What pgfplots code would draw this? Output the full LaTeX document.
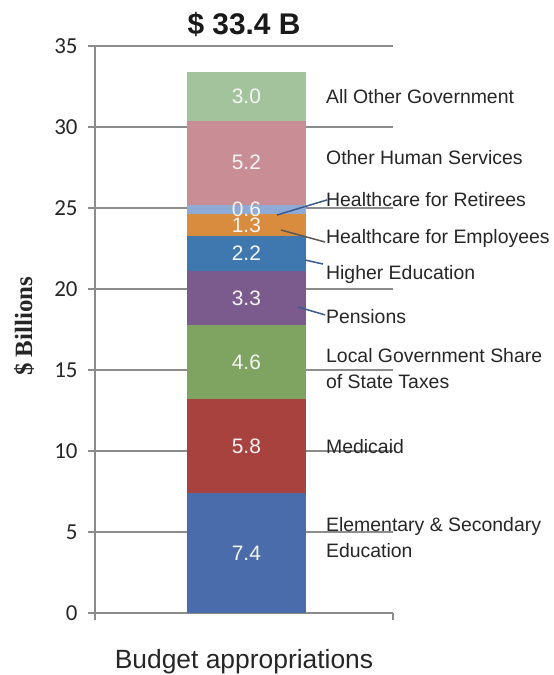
\documentclass[border=0pt]{standalone}
\usepackage{pgfplots}
\pgfplotsset{compat=1.18}
\usepackage{fontspec}
\setmainfont{Liberation Sans}
\newfontfamily\carlito{Carlito}
\newfontfamily\serifb{Liberation Serif}
\definecolor{cElem}{HTML}{4B6CAA}
\definecolor{cMed}{HTML}{A8423E}
\definecolor{cLoc}{HTML}{7FA462}
\definecolor{cPen}{HTML}{7B5A8E}
\definecolor{cHig}{HTML}{3E78AE}
\definecolor{cEmp}{HTML}{D98B3E}
\definecolor{cRet}{HTML}{8FAAD4}
\definecolor{cOHS}{HTML}{C88D95}
\definecolor{cAll}{HTML}{A3C39D}
\definecolor{gridc}{HTML}{8C8C8C}
\definecolor{leadc}{HTML}{3A5A90}
\tikzset{
  clab/.style={anchor=west, font=\fontsize{19.5}{26}\selectfont, text=black!85, align=left, inner sep=0pt},
}
\begin{document}
\begin{tikzpicture}
\useasboundingbox (0,0) rectangle (554bp,675bp);
\begin{axis}[
  at={(95bp,62bp)}, anchor=south west,
  scale only axis, width=298bp, height=567bp,
  xmin=0, xmax=1, ymin=0, ymax=35,
  ybar stacked, bar width=119bp,
  axis lines*=left,
  axis line style={gridc, line width=1.2bp},
  xtick={0,1}, xticklabels={},
  ytick={0,5,...,35},
  tick align=outside, major tick length=7bp,
  tick style={gridc, line width=1.2bp},
  ymajorgrids, grid style={gridc, line width=1.2bp},
  /pgf/number format/assume math mode=true,
  yticklabel style={font=\carlito\fontsize{23}{23}\selectfont, text=black!85, xshift=-7bp},
  clip=false,
  point meta=explicit,
  nodes near coords={\pgfmathprintnumber[fixed,fixed zerofill,precision=1]{\pgfplotspointmeta}},
  every node near coord/.append style={font=\fontsize{21}{21}\selectfont, text=white!92!gray, anchor=center},
]
\addplot[fill=cElem, draw=none] coordinates {(0.508,7.4) [7.4]};
\addplot[fill=cMed, draw=none] coordinates {(0.508,5.8) [5.8]};
\addplot[fill=cLoc, draw=none] coordinates {(0.508,4.6) [4.6]};
\addplot[fill=cPen, draw=none] coordinates {(0.508,3.3) [3.3]};
\addplot[fill=cHig, draw=none] coordinates {(0.508,2.2) [2.2]};
\addplot[fill=cEmp, draw=none] coordinates {(0.508,1.3) [1.3]};
\addplot[fill=cRet, draw=none] coordinates {(0.508,0.6) [0.6]};
\addplot[fill=cOHS, draw=none] coordinates {(0.508,5.2) [5.2]};
\addplot[fill=cAll, draw=none] coordinates {(0.508,3.0) [3.0]};

\coordinate (a1) at (axis cs:0.611,24.57);
\coordinate (a2) at (axis cs:0.779,25.5);
\coordinate (b1) at (axis cs:0.624,23.64);
\coordinate (b2) at (axis cs:0.772,22.9);
\coordinate (c1) at (axis cs:0.705,21.79);
\coordinate (c2) at (axis cs:0.765,21.54);
\coordinate (d1) at (axis cs:0.681,18.89);
\coordinate (d2) at (axis cs:0.772,18.4);

\node[clab] at (axis cs:0.775,31.9) {All Other Government};
\node[clab] at (axis cs:0.775,28.1) {Other Human Services};
\node[clab] at (axis cs:0.775,25.55) {Healthcare for Retirees};
\node[clab] at (axis cs:0.775,23.1) {Healthcare for Employees};
\node[clab] at (axis cs:0.775,20.9) {Higher Education};
\node[clab] at (axis cs:0.775,18.3) {Pensions};
\node[clab] at (axis cs:0.775,15.1) {Local Government Share\\of State Taxes};
\node[clab] at (axis cs:0.775,10.3) {Medicaid};
\node[clab] at (axis cs:0.775,4.65) {Elementary \& Secondary\\Education};

\node[anchor=base, font=\bfseries\fontsize{30}{30}\selectfont, text=black!90] at ([yshift=11bp]axis cs:0.50,35) {\$ 33.4 B};
\node[anchor=base, font=\fontsize{26.5}{26.5}\selectfont, text=black!85] at ([yshift=-55bp]axis cs:0.50,0) {Budget appropriations};
\node[rotate=90, font=\serifb\bfseries\fontsize{25}{25}\selectfont, text=black!85] at ([xshift=-71bp]axis cs:0,17.7) {\$ Billions};
\end{axis}
\draw[leadc, line width=1.5bp] (a1) -- (a2);
\draw[black!65, line width=1.5bp] (b1) -- (b2);
\draw[leadc, line width=1.5bp] (c1) -- (c2);
\draw[leadc, line width=1.5bp] (d1) -- (d2);
\end{tikzpicture}
\end{document}
